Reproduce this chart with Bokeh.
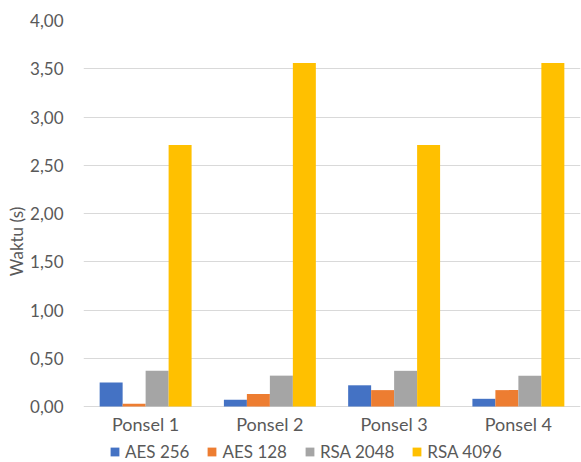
from bokeh.plotting import figure
from bokeh.models import ColumnDataSource, Range1d, FixedTicker, Legend, LegendItem
from bokeh.core.properties import value
from bokeh.transform import dodge
from bokeh.embed import file_html
from bokeh.resources import INLINE

categories = ["Ponsel 1", "Ponsel 2", "Ponsel 3", "Ponsel 4"]
series_names = ["AES 256", "AES 128", "RSA 2048", "RSA 4096"]
aes256 = [0.25, 0.07, 0.22, 0.08]
aes128 = [0.03, 0.13, 0.17, 0.17]
rsa2048 = [0.37, 0.32, 0.37, 0.32]
rsa4096 = [2.71, 3.56, 2.71, 3.56]
y_ticks = [0, 0.5, 1.0, 1.5, 2.0, 2.5, 3.0, 3.5, 4.0]
colors = ["#4472C4", "#ED7D31", "#A5A5A5", "#FFC000"]

src = ColumnDataSource(dict(cat=categories, a256=aes256, a128=aes128, r2048=rsa2048, r4096=rsa4096,
                            base=[0] * len(categories)))

FONT = "Lato"
TXT = "#595959"

# frame reaches page bottom; value 0 sits at 406 px, 4 at 20 px
p = figure(x_range=categories, y_range=Range1d(-0.58, 4), width=581, height=462,
           output_backend="svg", toolbar_location=None, x_axis_location=None,
           min_border_top=20, min_border_right=1, min_border_left=83, min_border_bottom=0)
p.outline_line_color = None
p.background_fill_color = "white"

p.xgrid.grid_line_color = None
p.ygrid.grid_line_color = "#D9D9D9"
p.ygrid.ticker = FixedTicker(ticks=y_ticks)
p.x_range.range_padding = 0.0

bw = 0.185
offs = [-1.5 * bw, -0.5 * bw, 0.5 * bw, 1.5 * bw]
cols = ["a256", "a128", "r2048", "r4096"]
items = []
for c, o, col, name in zip(cols, offs, colors, series_names):
    r = p.vbar(x=dodge("cat", o, range=p.x_range), top=c, bottom=0, width=bw, source=src,
               fill_color=col, line_color=col, line_width=0)
    items.append(LegendItem(label=name, renderers=[r]))

# category labels under the baseline
p.text(x="cat", y="base", text="cat", source=src, y_offset=17,
       text_align="center", text_baseline="middle",
       text_font=value(FONT), text_font_size="18px", text_color=TXT)

p.yaxis.ticker = FixedTicker(ticks=y_ticks)
p.yaxis.major_label_overrides = {t: f"{t:.2f}".replace(".", ",") for t in y_ticks}
p.yaxis.axis_line_color = None
p.yaxis.major_tick_line_color = None
p.yaxis.minor_tick_line_color = None
p.yaxis.major_label_text_font = FONT
p.yaxis.major_label_text_font_size = "17px"
p.yaxis.major_label_text_color = TXT
p.yaxis.major_label_standoff = 14
p.yaxis.axis_label = "Waktu (s)"
p.yaxis.axis_label_text_font = FONT
p.yaxis.axis_label_text_font_size = "17px"
p.yaxis.axis_label_text_font_style = "normal"
p.yaxis.axis_label_text_color = TXT
p.yaxis.axis_label_standoff = 0

legend = Legend(items=items, orientation="horizontal", location=(26, 0),
                label_text_font=FONT, label_text_font_size="17px", label_text_color=TXT,
                glyph_width=11, glyph_height=11, spacing=17, label_standoff=5,
                border_line_color=None, background_fill_alpha=0, padding=2, margin=0,
                label_height=16)
p.add_layout(legend, "center")

open("out.html", "w").write(file_html(p, INLINE))
